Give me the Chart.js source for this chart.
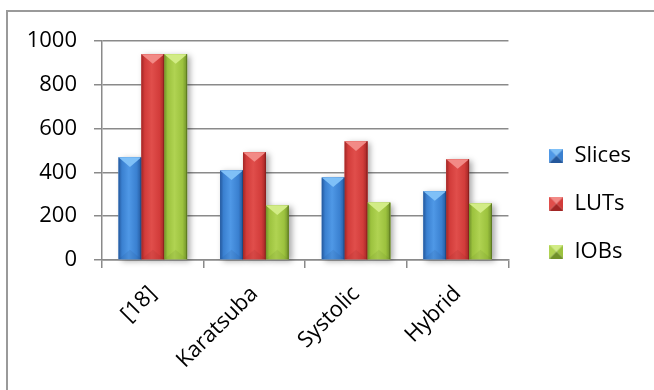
<!DOCTYPE html>
<html>
<head>
<meta charset="utf-8">
<script src="https://cdn.jsdelivr.net/npm/chart.js@4.4.1/dist/chart.umd.min.js"></script>
<style>
  html, body { margin: 0; padding: 0; background: #fff; overflow: hidden; }
  #frame { position: absolute; left: 6px; top: 10px; width: 700px; height: 450px; border: 2px solid #9a9a9a; box-sizing: border-box; }
  #wrap { position: absolute; left: 0; top: 0; width: 654px; height: 390px; }
</style>
</head>
<body>
<div id="frame"></div>
<div id="wrap"><canvas id="chart"></canvas></div>
<script>
const categories = ['[18]', 'Karatsuba', 'Systolic', 'Hybrid'];
const slices = [469, 409, 377, 314];
const luts = [940, 492, 542, 460];
const iobs = [940, 249, 262, 258];
const yTicks = [0, 200, 400, 600, 800, 1000];

// shades per series: base fill, edges, highlight, bevel top, bevel bottom
const shades = [
    { base: '#3a80d0', dark: '#24589c', light: '#4f98e6', top: '#7fc0f7', bottom: '#1d4a85' },
    { base: '#d23c3a', dark: '#a12625', light: '#e04e4b', top: '#f28a86', bottom: '#8a1f1e' },
    { base: '#9cc23e', dark: '#70912a', light: '#b0d352', top: '#d2ec86', bottom: '#5e7a22' }
];

function legendIcon(c) {
    const cv = document.createElement('canvas');
    cv.width = 14;
    cv.height = 14;
    const g = cv.getContext('2d');
    const tri = (pts, col) => {
        g.beginPath();
        g.moveTo(pts[0], pts[1]);
        g.lineTo(pts[2], pts[3]);
        g.lineTo(7, 7);
        g.closePath();
        g.fillStyle = col;
        g.fill();
    };
    tri([0, 0, 14, 0], c.top);
    tri([0, 0, 0, 14], c.light);
    tri([14, 0, 14, 14], c.base);
    tri([0, 14, 14, 14], c.dark);
    return cv;
}

const shadowAndBevel = {
    id: 'shadowAndBevel',
    beforeDatasetsDraw(chart) {
        const ctx = chart.ctx;
        ctx.save();
        ctx.shadowColor = 'rgba(0,0,0,0.35)';
        ctx.shadowBlur = 6;
        ctx.shadowOffsetX = 3;
        ctx.shadowOffsetY = 2;
        ctx.fillStyle = '#fff';
        chart.data.datasets.forEach((ds, di) => {
            chart.getDatasetMeta(di).data.forEach(bar => {
                const { x, y, base, width } = bar.getProps(['x', 'y', 'base', 'width'], true);
                ctx.fillRect(x - width / 2, y, width, base - y);
            });
        });
        ctx.restore();
    },
    afterDatasetsDraw(chart) {
        const ctx = chart.ctx;
        ctx.save();
        chart.data.datasets.forEach((ds, di) => {
            const c = shades[di];
            chart.getDatasetMeta(di).data.forEach(bar => {
                const { x, y, base, width } = bar.getProps(['x', 'y', 'base', 'width'], true);
                const l = x - width / 2, r = x + width / 2;
                const gr = ctx.createLinearGradient(l, 0, r, 0);
                gr.addColorStop(0, c.dark);
                gr.addColorStop(0.15, c.base);
                gr.addColorStop(0.45, c.light);
                gr.addColorStop(0.8, c.base);
                gr.addColorStop(1, c.dark);
                ctx.fillStyle = gr;
                ctx.fillRect(l, y, width, base - y);

                const h = width * 0.42;
                ctx.beginPath();
                ctx.moveTo(l, y);
                ctx.lineTo(r, y);
                ctx.lineTo(x, y + h);
                ctx.closePath();
                ctx.fillStyle = c.top;
                ctx.fill();

                ctx.globalAlpha = 0.12;
                ctx.beginPath();
                ctx.moveTo(l, base);
                ctx.lineTo(r, base);
                ctx.lineTo(x, base - h);
                ctx.closePath();
                ctx.fillStyle = c.bottom;
                ctx.fill();
                ctx.globalAlpha = 1;

                ctx.fillStyle = c.bottom;
                ctx.fillRect(r - 1, y, 1, base - y);
            });
        });
        ctx.restore();
    }
};

// legend sits further right and a bit higher than Chart.js would put it
const legendShift = {
    id: 'legendShift',
    afterLayout(chart) {
        const lg = chart.legend;
        lg.left += 15;
        lg.right += 15;
        lg.top -= 12;
        lg.bottom -= 12;
    }
};

const font = { family: 'Open Sans', size: 22 };

new Chart(document.getElementById('chart').getContext('2d'), {
    type: 'bar',
    data: {
        labels: categories,
        datasets: [
            { label: 'Slices', data: slices, backgroundColor: shades[0].base, pointStyle: legendIcon(shades[0]) },
            { label: 'LUTs', data: luts, backgroundColor: shades[1].base, pointStyle: legendIcon(shades[1]) },
            { label: 'IOBs', data: iobs, backgroundColor: shades[2].base, pointStyle: legendIcon(shades[2]) }
        ]
    },
    options: {
        responsive: true,
        maintainAspectRatio: false,
        animation: false,
        layout: { padding: { left: 0, top: 41, right: 28, bottom: 0 } },
        datasets: {
            bar: { barPercentage: 1, categoryPercentage: 0.675 }
        },
        plugins: {
            tooltip: { enabled: false },
            legend: {
                position: 'right',
                labels: {
                    usePointStyle: true,
                    boxWidth: 14,
                    boxHeight: 14,
                    padding: 26,
                    color: '#000',
                    font: font
                }
            }
        },
        scales: {
            x: {
                afterFit: s => { s.height = 130; },
                grid: { display: true, drawOnChartArea: false, drawTicks: true, tickLength: 8, color: '#8a8a8a', lineWidth: 1.5 },
                border: { display: true, color: '#8a8a8a', width: 1.5 },
                ticks: { color: '#000', font: font, maxRotation: 45, minRotation: 45, autoSkip: false, padding: 13 }
            },
            y: {
                min: 0,
                max: 1000,
                afterFit: s => { s.width = 102; },
                afterBuildTicks: s => { s.ticks = yTicks.map(v => ({ value: v })); },
                grid: { color: '#8a8a8a', lineWidth: 1.5, tickLength: 8 },
                border: { display: true, color: '#8a8a8a', width: 1.5 },
                ticks: { color: '#000', font: font, padding: 17, callback: v => String(v) }
            }
        }
    },
    plugins: [shadowAndBevel, legendShift]
});
</script>
</body>
</html>
